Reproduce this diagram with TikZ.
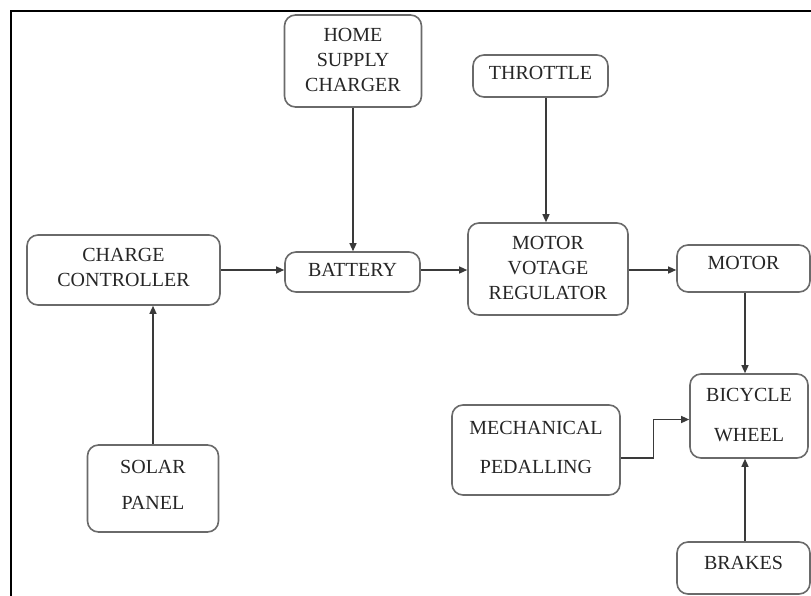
\documentclass[tikz,border=0pt]{standalone}
\usepackage{fontspec}
\setmainfont{Liberation Serif}
\usetikzlibrary{arrows.meta}
\definecolor{boxline}{HTML}{6A6A6A}
\definecolor{arrline}{HTML}{3A3A3A}
\definecolor{txtcol}{HTML}{262626}
\begin{document}
\begin{tikzpicture}[x=1pt,y=-1pt,
  box/.style={draw=boxline,line width=1.6pt,rounded corners=11pt,inner sep=0pt,fill=white},
  lbl/.style={font=\fontsize{20}{25}\selectfont,text=txtcol,align=center,inner sep=0pt},
  arr/.style={draw=arrline,line width=1.3pt,-{Triangle[length=8pt,width=7pt]}}]
\useasboundingbox (0,0) rectangle (811,595);
\fill[white] (0,0) rectangle (811,595);
% frame
\draw[black,line width=2.8pt] (11,600) -- (11,11) -- (815,11);
% boxes
\node[box,minimum width=137pt,minimum height=92pt,label={[lbl,yshift=1pt]center:HOME\\SUPPLY\\CHARGER}] (home) at (353,61) {};
\node[box,minimum width=135pt,minimum height=42pt,label={[lbl,yshift=3pt]center:THROTTLE}] (throttle) at (540.5,76) {};
\node[box,minimum width=193pt,minimum height=70pt,label={[lbl,yshift=2.5pt]center:CHARGE\\CONTROLLER}] (cc) at (123.5,270) {};
\node[box,minimum width=135pt,minimum height=40pt,label={[lbl,yshift=2pt]center:BATTERY}] (battery) at (352.5,272) {};
\node[box,minimum width=160pt,minimum height=92pt,label={[lbl,yshift=1pt]center:MOTOR\\VOTAGE\\REGULATOR}] (mvr) at (548,269) {};
\node[box,minimum width=133pt,minimum height=47pt,label={[lbl,yshift=5.5pt]center:MOTOR}] (motor) at (743.5,268.5) {};
\node[box,minimum width=118pt,minimum height=84pt,label={[lbl,yshift=0.5pt]center:BICYCLE\\[15pt]WHEEL}] (wheel) at (749,416) {};
\node[box,minimum width=168pt,minimum height=90pt,label={[lbl,yshift=2.5pt]center:MECHANICAL\\[14pt]PEDALLING}] (ped) at (536,450) {};
\node[box,minimum width=131pt,minimum height=87pt,label={[lbl,yshift=3.5pt]center:SOLAR\\[11pt]PANEL}] (solar) at (153,488.5) {};
\node[box,minimum width=133pt,minimum height=52pt,label={[lbl,yshift=5.5pt]center:BRAKES}] (brakes) at (743.5,568) {};
% connectors
\draw[arr] (home.south) -- (home.south |- battery.north);
\draw[arr] ([xshift=5.5pt]throttle.south) -- ([xshift=5.5pt]throttle.south |- mvr.north);
\draw[arr] (cc.east) -- (cc.east -| battery.west);
\draw[arr] ([yshift=2pt]battery.east) -- ([yshift=2pt]battery.east -| mvr.west);
\draw[arr] ([yshift=-1pt]mvr.east) -- ([yshift=-1pt]mvr.east -| motor.west);
\draw[arr] ([xshift=1.5pt]motor.south) -- ([xshift=1.5pt]motor.south |- wheel.north);
\draw[arr] ([yshift=-8pt]ped.east) -- ++(33,0) |- ([yshift=-3.5pt]wheel.west);
\draw[arr] (solar.north) -- (solar.north |- cc.south);
\draw[arr] ([xshift=1.5pt]brakes.north) -- ([xshift=1.5pt]brakes.north |- wheel.south);
\end{tikzpicture}
\end{document}
